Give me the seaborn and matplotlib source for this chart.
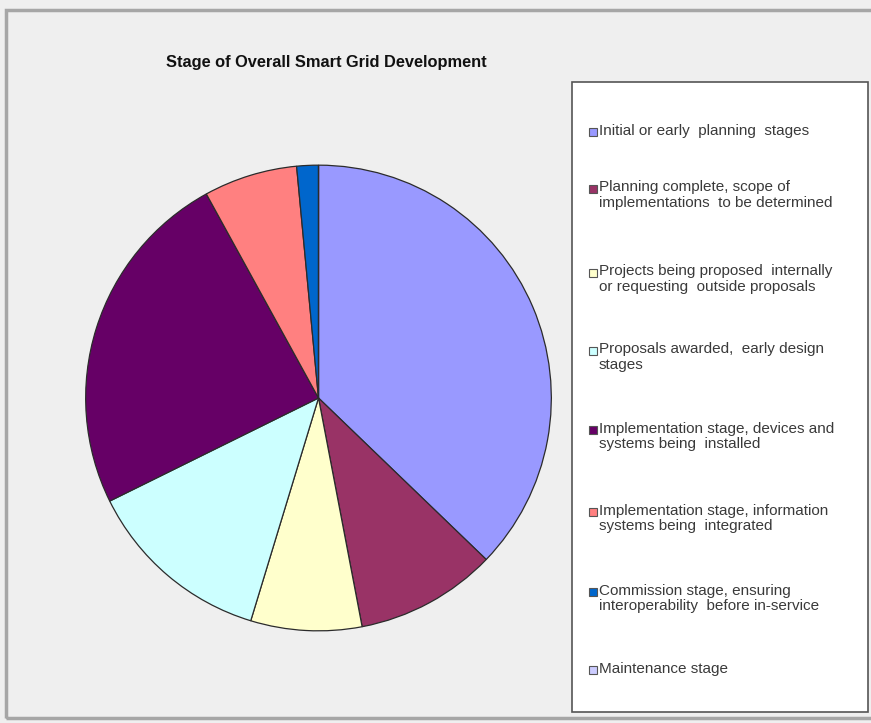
import matplotlib
matplotlib.use("Agg")
import matplotlib.pyplot as plt
from matplotlib.patches import Rectangle
import seaborn as sns

# Share of respondents by stage of smart grid development (%)
stages = [
    "Initial or early  planning  stages",
    "Planning complete, scope of\nimplementations  to be determined",
    "Projects being proposed  internally\nor requesting  outside proposals",
    "Proposals awarded,  early design\nstages",
    "Implementation stage, devices and\nsystems being  installed",
    "Implementation stage, information\nsystems being  integrated",
    "Commission stage, ensuring\ninteroperability  before in-service",
    "Maintenance stage",
]
shares = [37.2, 9.8, 7.7, 13.0, 24.3, 6.5, 1.5, 0.0]
colors = ["#9999FF", "#993366", "#FFFFCC", "#CCFFFF",
          "#660066", "#FF8080", "#0066CC", "#CCCCFF"]
title = "Stage of Overall Smart Grid Development"

sns.set_theme(style="white")
plt.rcParams["font.family"] = ["Liberation Sans", "DejaVu Sans"]
palette = sns.color_palette(colors)

W, H = 871, 723
fig = plt.figure(figsize=(W / 100, H / 100), dpi=100, facecolor="#EFEFEF")

def fx(px):
    return px / W

def fy(py):
    return 1 - py / H

# chart area frame
fig.patches.append(Rectangle((fx(6), fy(718)), fx(880) - fx(6), fy(10) - fy(718),
                             transform=fig.transFigure, facecolor="none",
                             edgecolor="#A6A6A6", linewidth=2.5, zorder=0))

# pie
cx, cy, r = 318.5, 398, 234
ax = fig.add_axes([fx(cx - r), fy(cy + r), 2 * r / W, 2 * r / H])
ax.pie(shares, colors=palette, startangle=90, counterclock=False,
       wedgeprops=dict(edgecolor="#2b2b2b", linewidth=0.9))
ax.set_xlim(-1.005, 1.005)
ax.set_ylim(-1.005, 1.005)
ax.set_aspect("equal")
ax.axis("off")

fig.text(fx(326), fy(63), title, ha="center", va="center",
         fontsize=11.8, fontweight="bold", color="#111111")

# legend box
lx0, lx1, ly0, ly1 = 572, 868, 82, 712
fig.patches.append(Rectangle((fx(lx0), fy(ly1)), fx(lx1) - fx(lx0), fy(ly0) - fy(ly1),
                             transform=fig.transFigure, facecolor="white",
                             edgecolor="#555555", linewidth=1.2, zorder=1))

entry_y = [132, 197, 281, 359, 438, 520, 600, 670]
line_h = 17
for label, col, yc in zip(stages, palette, entry_y):
    n = label.count("\n") + 1
    top = yc - (n - 1) * line_h / 2
    fig.patches.append(Rectangle((fx(589), fy(top + 4)), fx(8), 8 / H,
                                 transform=fig.transFigure, facecolor=col,
                                 edgecolor="#555555", linewidth=0.8, zorder=2))
    fig.text(fx(599), fy(top - 8), label, ha="left", va="top",
             fontsize=11, color="#3a3a3a", linespacing=1.1,
             transform=fig.transFigure, zorder=3)

fig.savefig("out.png", dpi=100, facecolor=fig.get_facecolor())
